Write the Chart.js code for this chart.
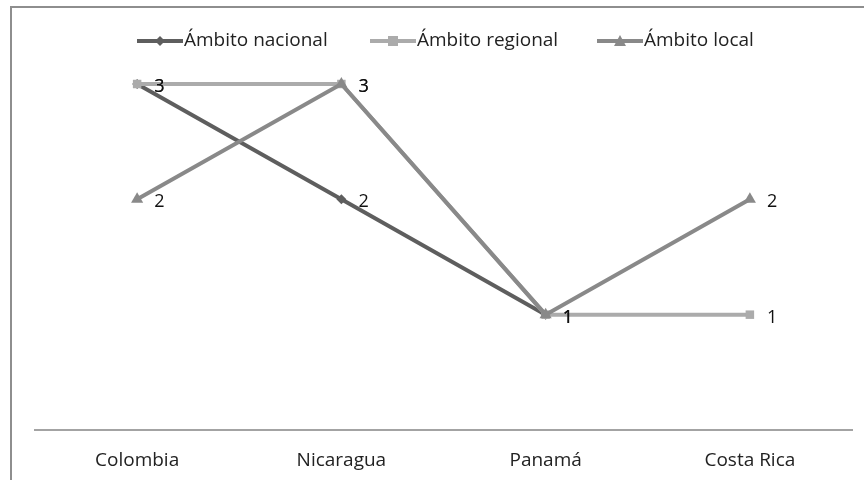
<!DOCTYPE html>
<html>
<head>
<meta charset="utf-8">
<script src="https://cdn.jsdelivr.net/npm/chart.js@4.4.1/dist/chart.umd.min.js"></script>
<style>
  html, body { margin: 0; padding: 0; background: #fff; }
  #wrap { width: 864px; height: 480px; position: relative; }
</style>
</head>
<body>
<div id="wrap"><canvas id="chart" width="864" height="480"></canvas></div>
<script>
const paises = ['Colombia', 'Nicaragua', 'Panamá', 'Costa Rica'];
const ambitoNacional = [3, 2, 1, null];
const ambitoRegional = [3, 3, 1, 1];
const ambitoLocal    = [2, 3, 1, 2];

const FONT = "'Open Sans', sans-serif";

// Leyenda dibujada a mano: linea + marcador + texto
const legendPlugin = {
    id: 'lineLegend',
    afterDraw(chart) {
        const { ctx } = chart;
        const starts = [137, 370, 597];
        const y = 41;
        chart.data.datasets.forEach((ds, i) => {
            const x0 = starts[i];
            ctx.save();
            ctx.strokeStyle = ds.borderColor;
            ctx.lineWidth = 4;
            ctx.beginPath();
            ctx.moveTo(x0, y);
            ctx.lineTo(x0 + 46, y);
            ctx.stroke();
            const mx = x0 + 23;
            ctx.fillStyle = ds.pointBackgroundColor;
            ctx.beginPath();
            if (ds.pointStyle === 'rect') {
                ctx.rect(mx - 5, y - 5, 10, 10);
            } else if (ds.pointStyle === 'rectRot') {
                ctx.moveTo(mx, y - 5); ctx.lineTo(mx + 5, y); ctx.lineTo(mx, y + 5); ctx.lineTo(mx - 5, y);
                ctx.closePath();
            } else {
                ctx.moveTo(mx, y - 6); ctx.lineTo(mx + 6, y + 5); ctx.lineTo(mx - 6, y + 5);
                ctx.closePath();
            }
            ctx.fill();
            ctx.fillStyle = '#222';
            ctx.font = `19px ${FONT}`;
            ctx.textBaseline = 'middle';
            ctx.textAlign = 'left';
            ctx.fillText(ds.label, x0 + 47, y);
            ctx.restore();
        });
    }
};

// Valores junto a cada punto
const valueLabels = {
    id: 'valueLabels',
    afterDatasetsDraw(chart) {
        const { ctx } = chart;
        ctx.save();
        ctx.fillStyle = '#111';
        ctx.font = `18px ${FONT}`;
        ctx.textBaseline = 'middle';
        ctx.textAlign = 'left';
        chart.data.datasets.forEach((ds, di) => {
            chart.getDatasetMeta(di).data.forEach((pt, i) => {
                const v = ds.data[i];
                if (v === null || v === undefined) return;
                ctx.fillText(v, pt.x + 17, pt.y + 3);
            });
        });
        ctx.restore();
    }
};

// Marco del grafico (borde superior e izquierdo)
const framePlugin = {
    id: 'frame',
    beforeDraw(chart) {
        const { ctx } = chart;
        ctx.save();
        ctx.strokeStyle = '#8e8e8e';
        ctx.lineWidth = 2;
        ctx.beginPath();
        ctx.moveTo(11, 480);
        ctx.lineTo(11, 7);
        ctx.lineTo(864, 7);
        ctx.stroke();
        ctx.restore();
    }
};

const serie = (label, data, color, style, radius, order) => ({
    label, data, order,
    borderColor: color,
    backgroundColor: color,
    pointBackgroundColor: color,
    pointBorderColor: color,
    pointStyle: style,
    pointRadius: radius,
    pointBorderWidth: 0,
    borderWidth: 4,
    tension: 0,
    clip: false,
    spanGaps: false,
});

new Chart(document.getElementById('chart'), {
    type: 'line',
    plugins: [framePlugin, legendPlugin, valueLabels],
    data: {
        labels: paises,
        datasets: [
            serie('Ámbito nacional', ambitoNacional, '#5e5e5e', 'rectRot', 5, 3),
            serie('Ámbito regional', ambitoRegional, '#ababab', 'rect', 6, 2),
            serie('Ámbito local', ambitoLocal, '#898989', 'triangle', 7, 1),
        ]
    },
    options: {
        responsive: false,
        animation: false,
        layout: { padding: { top: 84, left: 35, right: 12, bottom: 0 } },
        scales: {
            x: {
                offset: true,
                grid: { display: false, drawTicks: false },
                border: { display: true, color: '#a3a3a3', width: 2 },
                ticks: { color: '#222', font: { family: FONT, size: 19 }, padding: 19 },
                afterFit(scale) { scale.height = 50; }
            },
            y: {
                display: false,
                min: 0,
                max: 3,
            }
        },
        plugins: {
            legend: { display: false },
            tooltip: { enabled: false }
        }
    }
});
</script>
</body>
</html>
